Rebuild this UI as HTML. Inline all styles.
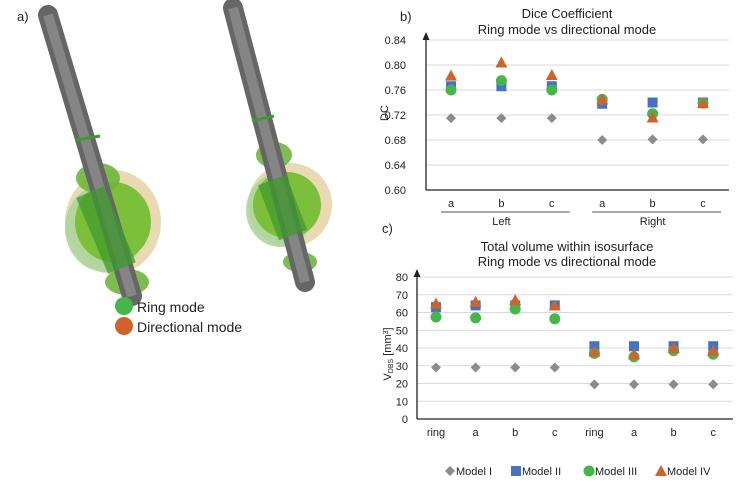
<!DOCTYPE html>
<html><head><meta charset="utf-8">
<style>
body{margin:0;background:#fff;}
svg{display:block;font-family:"Liberation Sans",sans-serif;}
</style></head>
<body>
<svg id="root" width="745" height="486" viewBox="0 0 745 486" xmlns="http://www.w3.org/2000/svg">
<text x="17" y="21" font-size="13" fill="#222">a)</text>
<g>
  <ellipse cx="113" cy="222" rx="48" ry="52" fill="#e6d3a6" opacity="0.85"/>
  <ellipse cx="105" cy="228" rx="40" ry="44" fill="#a9d39a" opacity="0.85"/>
  <ellipse cx="113" cy="222" rx="38" ry="40" fill="#7cbf3a"/>
  <ellipse cx="98" cy="178" rx="22" ry="15" fill="#6fb53b" opacity="0.9"/>
  <ellipse cx="127" cy="282" rx="22" ry="13" fill="#6fb53b" opacity="0.9"/>
  <line x1="48" y1="15" x2="132" y2="296" stroke="#666" stroke-width="20" stroke-linecap="round"/>
  <line x1="48" y1="15" x2="132" y2="296" stroke="#858585" stroke-width="10"/>
  <line x1="90" y1="192" x2="122" y2="268" stroke="#3f9a2e" stroke-width="30" opacity="0.75"/>
  <line x1="76" y1="140" x2="100" y2="136" stroke="#3f9a2e" stroke-width="3"/>
</g>
<g>
  <ellipse cx="290" cy="205" rx="42" ry="42" fill="#e6d3a6" opacity="0.85"/>
  <ellipse cx="280" cy="210" rx="34" ry="37" fill="#a9d39a" opacity="0.85"/>
  <ellipse cx="287" cy="205" rx="34" ry="33" fill="#7cbf3a"/>
  <ellipse cx="274" cy="155" rx="18" ry="13" fill="#6fb53b" opacity="0.9"/>
  <ellipse cx="300" cy="262" rx="17" ry="10" fill="#6fb53b" opacity="0.9"/>
  <line x1="233" y1="8" x2="305" y2="282" stroke="#666" stroke-width="20" stroke-linecap="round"/>
  <line x1="233" y1="8" x2="305" y2="282" stroke="#858585" stroke-width="10"/>
  <line x1="272" y1="180" x2="293" y2="235" stroke="#3f9a2e" stroke-width="30" opacity="0.75"/>
  <line x1="252" y1="121" x2="274" y2="116" stroke="#3f9a2e" stroke-width="3"/>
</g>
<g>
  <circle cx="124" cy="306" r="9" fill="#45b649"/>
  <text x="137" y="312" font-size="14" fill="#222">Ring mode</text>
  <circle cx="124" cy="326" r="9" fill="#d0622a"/>
  <text x="137" y="332" font-size="14" fill="#222">Directional mode</text>
</g>
<text x="400" y="21" font-size="13" fill="#222">b)</text>
<text x="567" y="18" font-size="13" fill="#222" text-anchor="middle">Dice Coefficient</text>
<text x="567" y="34" font-size="13" fill="#222" text-anchor="middle">Ring mode vs directional mode</text>
<g id="chartB"></g>
<text x="382" y="233" font-size="13" fill="#222">c)</text>
<text x="567" y="251" font-size="13" fill="#222" text-anchor="middle">Total volume within isosurface</text>
<text x="567" y="266" font-size="13" fill="#222" text-anchor="middle">Ring mode vs directional mode</text>
<g id="chartC"></g>
<text transform="translate(391,354) rotate(-90)" font-size="11" fill="#222" text-anchor="middle">V<tspan font-size="7" dy="2">DBS</tspan><tspan dy="-2"> [mm</tspan><tspan font-size="7" dy="-3">3</tspan><tspan dy="3">]</tspan></text>
<text transform="translate(388,113) rotate(-90)" font-size="11" fill="#222" text-anchor="middle">DC</text>
<g id="legend"></g>
</svg>
<script>
const NS="http://www.w3.org/2000/svg";
const COLORS=["#8c8c8c","#4472c4","#45b649","#d0622a"];
const MODELS=["Model I","Model II","Model III","Model IV"];
const bCategories=["a","b","c","a","b","c"];
const bGroups=["Left","Right"];
const bTicks=[0.60,0.64,0.68,0.72,0.76,0.80,0.84];
const bModel1=[0.715,0.715,0.715,0.680,0.681,0.681];
const bModel2=[0.766,0.766,0.766,0.738,0.740,0.740];
const bModel3=[0.760,0.775,0.760,0.745,0.722,0.739];
const bModel4=[0.783,0.804,0.784,0.745,0.716,0.739];
const cCategories=["ring","a","b","c","ring","a","b","c"];
const cTicks=[0,10,20,30,40,50,60,70,80];
const cModel1=[29,29,29,29,19.5,19.5,19.5,19.5];
const cModel2=[63,64,64,64,41,41,41,41];
const cModel3=[57.5,57,62,56.5,37,35,38.5,36.5];
const cModel4=[65,66,67,64,38,36.5,40,38.5];

function mk(tag,attrs,parent){const e=document.createElementNS(NS,tag);for(const k in attrs)e.setAttribute(k,attrs[k]);parent.appendChild(e);return e;}
function marker(g,type,x,y){
  let e;
  if(type===0){e=mk("polygon",{points:`${x},${y-5} ${x+5},${y} ${x},${y+5} ${x-5},${y}`,fill:COLORS[0]},g);}
  else if(type===1){e=mk("rect",{x:x-5,y:y-5,width:10,height:10,fill:COLORS[1]},g);}
  else if(type===2){e=mk("circle",{cx:x,cy:y,r:5.5,fill:COLORS[2]},g);}
  else {e=mk("polygon",{points:`${x},${y-6} ${x+6},${y+5} ${x-6},${y+5}`,fill:COLORS[3]},g);}
  return e;
}
function chart(g,o){
  const y=v=>o.y0-(v-o.vmin)/(o.vmax-o.vmin)*(o.y0-o.y1);
  const x=i=>o.xs+i*o.dx;
  o.ticks.forEach(t=>{
    const l=mk("line",{x1:o.ax,x2:o.right,y1:y(t),y2:y(t),stroke:"#d9d9d9","stroke-width":1},g);
    
    
    const tx=mk("text",{x:o.ax-o.gap,y:y(t)+4,"font-size":11,fill:"#222","text-anchor":"end"},g);
    tx.textContent=o.fmt(t);
    
    
  });
  const xa=mk("line",{x1:o.ax,x2:o.right,y1:o.y0,y2:o.y0,stroke:"#222","stroke-width":1.3},g);
  
  
  const ya=mk("line",{x1:o.ax,x2:o.ax,y1:o.y0,y2:o.y1-3,stroke:"#222","stroke-width":1.3},g);
  
  
  const ar=mk("polygon",{points:`${o.ax},${o.y1-8} ${o.ax+3.5},${o.y1} ${o.ax-3.5},${o.y1}`,fill:"#222"},g);
  
  
  o.cats.forEach((c,i)=>{
    const tx=mk("text",{x:x(i),y:o.y0+17,"font-size":11,fill:"#222","text-anchor":"middle"},g);
    tx.textContent=c;
    
    
  });
  o.series.forEach((s,m)=>{
    s.forEach((v,i)=>{
      const e=marker(g,m,x(i),y(v));
      
      
    });
  });
  return x;
}
const gb=document.getElementById("chartB");
const xb=chart(gb,{ax:426,right:729,y0:190,y1:40,vmin:0.60,vmax:0.84,ticks:bTicks,gap:20,fmt:t=>t.toFixed(2),xs:451,dx:50.4,cats:bCategories,series:[bModel1,bModel2,bModel3,bModel4]});
bGroups.forEach((gname,k)=>{
  const a=xb(k*3)-10,b=xb(k*3+2)+18;
  const l=mk("line",{x1:a,x2:b,y1:212,y2:212,stroke:"#555","stroke-width":1},gb);
  
  
  const t=mk("text",{x:xb(k*3+1),y:225,"font-size":11,fill:"#222","text-anchor":"middle"},gb);
  t.textContent=gname;
  
  
});
const gc=document.getElementById("chartC");
chart(gc,{ax:417,right:733,y0:419,y1:277,vmin:0,vmax:80,ticks:cTicks,gap:9,fmt:t=>String(t),xs:436,dx:39.6,cats:cCategories,series:[cModel1,cModel2,cModel3,cModel4]});
const lg=document.getElementById("legend");
const lx=[450,516,589,661];
MODELS.forEach((m,i)=>{
  const e=marker(lg,i,lx[i],471);
  
  
  const t=mk("text",{x:lx[i]+6,y:475,"font-size":11,fill:"#222"},lg);
  t.textContent=m;
  
  
});
</script>
</body></html>
